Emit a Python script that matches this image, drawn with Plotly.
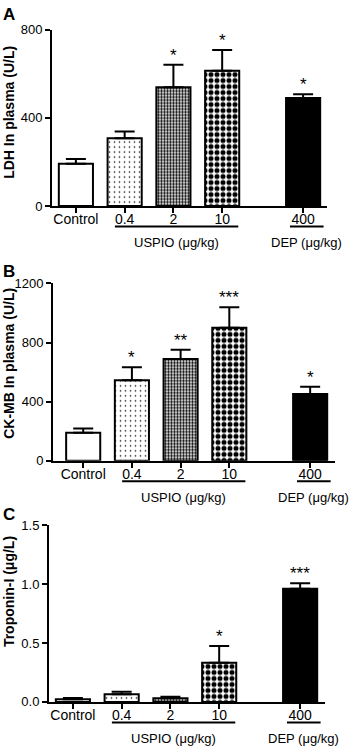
import plotly.graph_objects as go

# ---------------- data ----------------
categories = ["Control", "0.4", "2", "10", "400"]
ldh = [191, 307, 538, 613, 489]
ldh_err = [22, 31, 102, 94, 18]
ldh_sig = ["", "", "*", "*", "*"]

ckmb = [189, 544, 689, 900, 451]
ckmb_err = [29, 89, 62, 138, 49]
ckmb_sig = ["", "*", "**", "***", "*"]

tni = [0.022, 0.064, 0.031, 0.333, 0.961]
tni_err = [0.011, 0.022, 0.013, 0.142, 0.047]
tni_sig = ["", "", "", "*", "***"]

uspio_label = "USPIO (μg/kg)"
dep_label = "DEP (μg/kg)"

# ---------------- layout helpers ----------------
W, H = 358, 754
FONT = "Liberation Sans, Arial, sans-serif"
DEP_GAP = 0.66
xpos = [i + (DEP_GAP if i == 4 else 0) for i in range(len(categories))]

# per-category fill styles
styles = [
    dict(color="white", pattern=None),
    dict(color="white", pattern=dict(shape=".", size=5, solidity=0.08)),
    dict(color="white", pattern=dict(shape=".", size=3, solidity=0.5)),
    dict(color="white", pattern=dict(shape=".", size=6, solidity=0.55)),
    dict(color="black", pattern=None),
]

panels = [
    dict(letter="A", vals=ldh, err=ldh_err, sig=ldh_sig, title="LDH In plasma (U/L)",
         yrange=[0, 800], ytick=[0, 400, 800], yfmt="d", title_y=108,
         px_x=(52, 327), xrange=[-0.49, 5.15], px_y=(23, 203), letter_y=8),
    dict(letter="B", vals=ckmb, err=ckmb_err, sig=ckmb_sig, title="CK-MB In plasma (U/L)",
         yrange=[0, 1200], ytick=[0, 400, 800, 1200], yfmt="d", title_y=364,
         px_x=(53, 335), xrange=[-0.62, 5.17], px_y=(282, 463), letter_y=270),
    dict(letter="C", vals=tni, err=tni_err, sig=tni_sig, title="Troponin-I (μg/L)",
         yrange=[0, 1.5], ytick=[0, 0.5, 1.0, 1.5], yfmt=".1f", title_y=597,
         px_x=(49, 325), xrange=[-0.49, 5.17], px_y=(529, 709), letter_y=518),
]


def py(p):
    return 1 - p / H


fig = go.Figure()
annotations = []
shapes = []

for k, p in enumerate(panels):
    sfx = "" if k == 0 else str(k + 1)
    xa, ya = "x" + sfx, "y" + sfx
    for i, cat in enumerate(categories):
        st = styles[i]
        marker = dict(color=st["color"], line=dict(color="black", width=2))
        if st["pattern"]:
            marker["pattern"] = dict(fgcolor="black", bgcolor="white",
                                     fillmode="replace", **st["pattern"])
        fig.add_trace(go.Bar(
            x=[xpos[i]], y=[p["vals"][i]], xaxis=xa, yaxis=ya, width=0.7,
            name=cat, marker=marker,
            error_y=dict(type="data", symmetric=False, array=[p["err"][i]],
                         arrayminus=[0], color="black", thickness=2, width=10),
            showlegend=False, hoverinfo="skip",
        ))
    x0, x1 = p["px_x"]
    ytop, y0 = p["px_y"]
    fig.layout["xaxis" + sfx] = dict(
        domain=[x0 / W, x1 / W], range=p["xrange"], anchor=ya,
        showline=True, linewidth=2, linecolor="black", mirror=False,
        ticks="outside", ticklen=5, tickwidth=2, tickcolor="black",
        tickvals=xpos, ticktext=categories, showgrid=False, zeroline=False,
        ticklabelstandoff=-6,
        tickfont=dict(family=FONT, size=14, color="black"), fixedrange=True,
    )
    fig.layout["yaxis" + sfx] = dict(
        domain=[py(y0), py(ytop)], range=p["yrange"], anchor=xa,
        showline=True, linewidth=2, linecolor="black",
        ticks="outside", ticklen=5, tickwidth=2, tickcolor="black",
        tickvals=p["ytick"], tickformat=p["yfmt"], showgrid=False, zeroline=False,
        tickfont=dict(family=FONT, size=13, color="black"), fixedrange=True,
    )
    # significance stars
    for i, s in enumerate(p["sig"]):
        if s:
            annotations.append(dict(
                x=xpos[i], y=p["vals"][i] + p["err"][i], xref=xa, yref=ya,
                text=s, showarrow=False, xanchor="center", yanchor="bottom", yshift=-2,
                font=dict(family=FONT, size=17, color="black")))
    # axis title
    annotations.append(dict(
        x=9 / W, y=py(p["title_y"]), xref="paper", yref="paper",
        text="<b>%s</b>" % p["title"], textangle=-90, showarrow=False,
        xanchor="center", yanchor="middle",
        font=dict(family=FONT, size=14, color="black")))
    # panel letter
    annotations.append(dict(
        x=1 / W, y=py(p["letter_y"]), xref="paper", yref="paper",
        text="<b>%s</b>" % p["letter"], showarrow=False, xanchor="left", yanchor="middle",
        font=dict(family=FONT, size=17, color="black")))
    # group underlines and labels
    uy = py(y0 + 21)
    ty = py(y0 + 37)
    groups = [(xpos[1] - 0.2, xpos[3] + 0.33, uspio_label),
              (xpos[4] - 0.27, xpos[4] + 0.42, dep_label)]
    for gx0, gx1, lab in groups:
        shapes.append(dict(type="line", xref=xa, yref="paper", x0=gx0, x1=gx1,
                           y0=uy, y1=uy, line=dict(color="black", width=2)))
        annotations.append(dict(
            x=(gx0 + gx1) / 2, y=ty, xref=xa, yref="paper", text=lab,
            showarrow=False, xanchor="center", yanchor="middle",
            font=dict(family=FONT, size=13, color="black")))

fig.update_layout(
    width=W, height=H, margin=dict(l=0, r=0, t=0, b=0),
    paper_bgcolor="white", plot_bgcolor="white",
    annotations=annotations, shapes=shapes,
    font=dict(family=FONT, color="black"),
)

fig.write_html("out.html", config={"displayModeBar": False},
               post_script="document.body.style.margin='0';document.body.style.overflow='hidden';")
